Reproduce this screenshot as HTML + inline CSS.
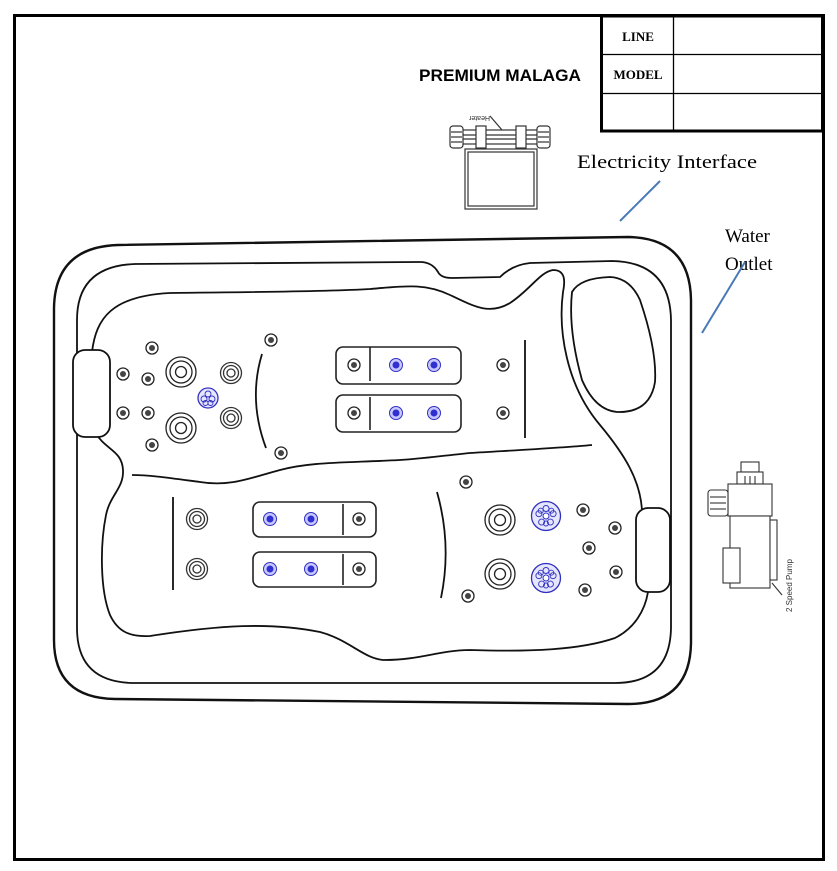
<!DOCTYPE html>
<html><head><meta charset="utf-8"><style>
html,body{margin:0;padding:0;background:#fff;width:837px;height:871px;overflow:hidden}
svg{display:block}
</style></head><body>
<svg width="837" height="871" viewBox="0 0 837 871" xmlns="http://www.w3.org/2000/svg">
<defs>
<g id="sj"><circle r="6" fill="#fff" stroke="#222" stroke-width="1.3"/><circle r="3" fill="#444"/></g>
<g id="lj"><circle r="15" fill="none" stroke="#222" stroke-width="1.3"/><circle r="11" fill="none" stroke="#222" stroke-width="1.3"/><circle r="5.5" fill="none" stroke="#222" stroke-width="1.3"/></g>
<g id="mj"><circle r="10.5" fill="none" stroke="#333" stroke-width="1.3"/><circle r="7.5" fill="none" stroke="#333" stroke-width="1.3"/><circle r="4" fill="none" stroke="#333" stroke-width="1.3"/></g>
<g id="bj"><circle r="6.5" fill="#c8c8ff" stroke="#3030c0" stroke-width="1"/><circle r="3.5" fill="#3030d0"/></g>
<g id="br"><circle r="14.5" fill="#e6e6ff" stroke="#3030c0" stroke-width="1.3"/><circle r="3" fill="#fff" stroke="#3030c0"/>
<g fill="none" stroke="#3030c0" stroke-width="0.9"><circle cx="0" cy="-7.5" r="3"/><circle cx="7.1" cy="-2.3" r="3"/><circle cx="4.4" cy="6.1" r="3"/><circle cx="-4.4" cy="6.1" r="3"/><circle cx="-7.1" cy="-2.3" r="3"/><circle cx="5.3" cy="-5.3" r="2.5"/><circle cx="-5.3" cy="-5.3" r="2.5"/><circle cx="0" cy="7.5" r="2.5"/></g></g>
<g id="br5"><circle r="10" fill="#e6e6ff" stroke="#3030c0" stroke-width="1.3"/><g fill="none" stroke="#3030c0" stroke-width="0.9"><circle cx="0" cy="-4" r="3"/><circle cx="4" cy="1" r="3"/><circle cx="-4" cy="1" r="3"/><circle cx="2.5" cy="5" r="2.5"/><circle cx="-2.5" cy="5" r="2.5"/></g></g>
</defs>
<!-- frame -->
<rect x="14.5" y="15.5" width="809" height="844" fill="none" stroke="#000" stroke-width="3"/>
<rect x="601.5" y="16" width="221" height="115" fill="#fff" stroke="#000" stroke-width="3"/>
<line x1="602" y1="54.5" x2="822" y2="54.5" stroke="#000" stroke-width="1.3"/>
<line x1="602" y1="93.5" x2="822" y2="93.5" stroke="#000" stroke-width="1.3"/>
<line x1="673.5" y1="17" x2="673.5" y2="130" stroke="#000" stroke-width="1.3"/>
<text x="638" y="41" text-anchor="middle" font-family="Liberation Serif,serif" font-weight="bold" font-size="13">LINE</text>
<text x="638" y="79" text-anchor="middle" font-family="Liberation Serif,serif" font-weight="bold" font-size="13">MODEL</text>
<text x="419" y="81" font-family="Liberation Sans,sans-serif" font-weight="bold" font-size="17" textLength="162" lengthAdjust="spacingAndGlyphs">PREMIUM MALAGA</text>
<text x="577" y="168" font-family="Liberation Serif,serif" font-size="19" textLength="180" lengthAdjust="spacingAndGlyphs">Electricity Interface</text>
<text x="725" y="242" font-family="Liberation Serif,serif" font-size="19">Water</text>
<text x="725" y="270" font-family="Liberation Serif,serif" font-size="19">Outlet</text>
<line x1="620" y1="221" x2="660" y2="181" stroke="#4a7ab5" stroke-width="2"/>
<line x1="702" y1="333" x2="745" y2="262" stroke="#4a7ab5" stroke-width="2"/>
<!-- heater -->
<g stroke="#333" fill="#fff" stroke-width="1.2">
<rect x="465" y="149" width="72" height="60"/><rect x="468" y="152" width="66" height="54" fill="none"/>
<rect x="460" y="130" width="80" height="14"/>
<line x1="460" y1="135" x2="540" y2="135"/><line x1="460" y1="139" x2="540" y2="139"/>
<rect x="450" y="126" width="13" height="22" rx="3"/><rect x="537" y="126" width="13" height="22" rx="3"/>
<line x1="451" y1="132" x2="462" y2="132"/><line x1="451" y1="137" x2="462" y2="137"/><line x1="451" y1="142" x2="462" y2="142"/>
<line x1="538" y1="132" x2="549" y2="132"/><line x1="538" y1="137" x2="549" y2="137"/><line x1="538" y1="142" x2="549" y2="142"/>
<rect x="476" y="126" width="10" height="22"/><rect x="516" y="126" width="10" height="22"/>
<line x1="490" y1="116" x2="502" y2="130"/>
</g>
<text x="0" y="0" font-family="Liberation Sans,sans-serif" font-size="7" transform="translate(490,116) scale(-1,-1)" fill="#333">Heater</text>
<!-- pump -->
<g stroke="#333" fill="#fff" stroke-width="1.1">
<rect x="741" y="462" width="18" height="10"/>
<rect x="737" y="472" width="26" height="12"/>
<rect x="728" y="484" width="44" height="32"/>
<rect x="708" y="490" width="20" height="26" rx="3"/>
<line x1="710" y1="497" x2="726" y2="497"/><line x1="710" y1="503" x2="726" y2="503"/><line x1="710" y1="509" x2="726" y2="509"/>
<rect x="730" y="516" width="40" height="72"/>
<rect x="770" y="520" width="7" height="60"/>
<rect x="723" y="548" width="17" height="35"/>
<line x1="745" y1="476" x2="745" y2="484"/><line x1="750" y1="476" x2="750" y2="484"/><line x1="755" y1="476" x2="755" y2="484"/>
<line x1="772" y1="583" x2="782" y2="595"/>
</g>
<text transform="translate(792,612) rotate(-90)" font-family="Liberation Sans,sans-serif" font-size="8" fill="#333">2 Speed Pump</text>
<!-- tub -->
<g fill="none" stroke="#111" stroke-width="2.4">
<path d="M118 245 L628 237 Q690 238 691 300 L691 643 Q690 704 628 704 L115 699 Q54 698 54 640 L54 308 Q55 247 118 245 Z"/>
</g>
<g fill="none" stroke="#111" stroke-width="1.8">
<path d="M135 264 L420 262 Q432 262 438 272 Q441 278 452 278 L500 277 Q512 265 530 263 L612 261 Q670 262 671 320 L671 628 Q670 683 615 683 L135 683 Q77 683 77 628 L77 320 Q77 266 135 264 Z"/>
<!-- upper contour -->
<path d="M92 352 C96 318 112 296 170 293 C240 292 320 292 370 289 C405 286 425 283 450 295 C475 307 490 315 510 303 C530 290 540 272 553 270 C566 270 565 282 563 292 C558 330 566 385 600 425 C625 455 640 480 642 510"/>
<path d="M572 292 Q580 278 610 277 Q630 278 640 300 Q657 350 655 382 Q650 413 617 412 Q595 410 582 380 Q568 330 572 292 Z"/>
<path d="M592 445 C560 448 520 450 470 453 C440 456 420 459 400 460 C340 463 310 462 280 470 C250 478 230 487 200 482 C170 478 150 475 132 475"/>
<path d="M95 432 C105 450 122 450 123 470 C124 488 110 495 106 515 C100 545 100 590 110 615 C118 632 130 637 150 636 C220 625 270 622 320 632 C350 640 365 660 385 660 C420 660 440 650 470 650 C530 652 580 650 615 638 C635 628 645 610 648 592"/>
<rect x="73" y="350" width="37" height="87" rx="12" fill="#fff"/>
<rect x="636" y="508" width="34" height="84" rx="12" fill="#fff"/>
<!-- arcs & dividers -->
<path d="M262 354 Q248 400 266 448"/>
<path d="M437 492 Q452 545 441 598"/>
<line x1="525" y1="340" x2="525" y2="438"/>
<line x1="173" y1="497" x2="173" y2="590"/>
</g>
<g fill="none" stroke="#222" stroke-width="1.6">
<rect x="336" y="347" width="125" height="37" rx="7"/><line x1="370" y1="347" x2="370" y2="381"/>
<rect x="336" y="395" width="125" height="37" rx="7"/><line x1="370" y1="397" x2="370" y2="430"/>
<rect x="253" y="502" width="123" height="35" rx="7"/><line x1="343" y1="504" x2="343" y2="535"/>
<rect x="253" y="552" width="123" height="35" rx="7"/><line x1="343" y1="554" x2="343" y2="585"/>
</g>
<!-- jets -->
<use href="#sj" x="152" y="348"/><use href="#sj" x="123" y="374"/><use href="#sj" x="148" y="379"/>
<use href="#sj" x="123" y="413"/><use href="#sj" x="148" y="413"/><use href="#sj" x="152" y="445"/>
<use href="#sj" x="271" y="340"/><use href="#sj" x="281" y="453"/>
<use href="#lj" x="181" y="372"/><use href="#lj" x="181" y="428"/>
<use href="#mj" x="231" y="373"/><use href="#mj" x="231" y="418"/>
<use href="#br5" x="208" y="398"/>
<use href="#sj" x="354" y="365"/><use href="#bj" x="396" y="365"/><use href="#bj" x="434" y="365"/>
<use href="#sj" x="354" y="413"/><use href="#bj" x="396" y="413"/><use href="#bj" x="434" y="413"/>
<use href="#sj" x="503" y="365"/><use href="#sj" x="503" y="413"/>
<use href="#bj" x="270" y="519"/><use href="#bj" x="311" y="519"/><use href="#sj" x="359" y="519"/>
<use href="#bj" x="270" y="569"/><use href="#bj" x="311" y="569"/><use href="#sj" x="359" y="569"/>
<use href="#mj" x="197" y="519"/><use href="#mj" x="197" y="569"/>
<use href="#sj" x="466" y="482"/><use href="#sj" x="468" y="596"/>
<use href="#lj" x="500" y="520"/><use href="#lj" x="500" y="574"/>
<use href="#br" x="546" y="516"/><use href="#br" x="546" y="578"/>
<use href="#sj" x="583" y="510"/><use href="#sj" x="589" y="548"/><use href="#sj" x="585" y="590"/>
<use href="#sj" x="615" y="528"/><use href="#sj" x="616" y="572"/>
</svg>
</body></html>
